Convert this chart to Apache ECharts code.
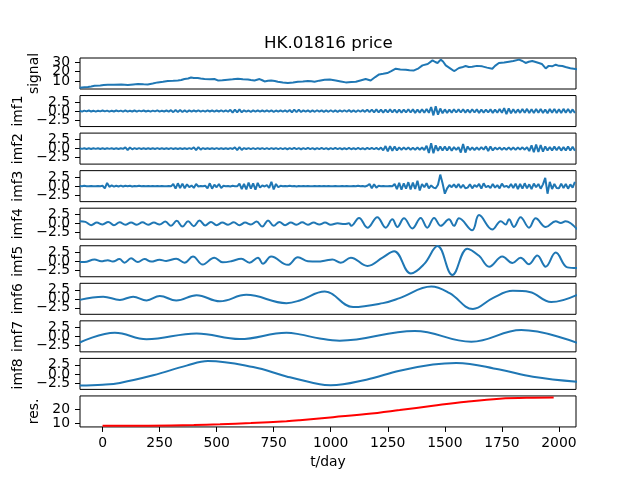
<!DOCTYPE html>
<html><head><meta charset="utf-8">
<script src="https://cdn.jsdelivr.net/npm/echarts@6/dist/echarts.min.js"></script>
<style>html,body{margin:0;padding:0;background:#fff}#c{width:640px;height:480px}</style>
</head><body><div id="c"></div>
<script>
const titleText = 'HK.01816 price';
const panelNames = ['signal','imf1','imf2','imf3','imf4','imf5','imf6','imf7','imf8','res.'];
const xTicks = [0,250,500,750,1000,1250,1500,1750,2000];
const signalTicks = [10,20,30];
const imfTicks = [-2.5,0,2.5];
const resTicks = [10,20];

// signal: [t/day, price]
const signal = [[-100,3.5],[-80,4.0],[-64,4.2],[-50,4.8],[-35,5.6],[-10,5.9],[5,6.4],[23,6.6],[50,6.5],[82,6.9],[111,6.3],[135,6.9],[155,7.3],[180,7.0],[198,6.9],[220,7.8],[242,9.0],[265,9.6],[286,10.4],[310,10.6],[330,11.0],[345,11.4],[359,12.5],[375,13.0],[388,14.1],[400,13.6],[417,13.5],[430,13.0],[447,12.5],[470,12.3],[490,12.5],[505,11.0],[525,11.2],[549,11.8],[570,12.2],[593,12.8],[615,12.3],[637,11.9],[650,11.4],[666,11.0],[688,12.4],[700,11.2],[710,10.0],[725,10.6],[739,11.0],[755,10.5],[768,9.7],[790,9.0],[812,8.4],[835,9.0],[856,9.7],[878,10.0],[900,10.4],[915,10.1],[929,9.7],[950,10.8],[973,11.8],[996,11.9],[1022,11.0],[1044,10.0],[1066,9.0],[1090,9.4],[1110,9.7],[1130,11.0],[1153,12.5],[1175,11.0],[1195,14.5],[1212,17.2],[1230,17.8],[1248,18.6],[1265,20.5],[1285,23.1],[1305,22.3],[1329,22.1],[1345,21.5],[1365,21.3],[1385,23.5],[1402,26.5],[1425,28.0],[1446,31.7],[1458,30.0],[1468,29.0],[1482,32.4],[1492,30.5],[1504,26.5],[1520,24.0],[1540,20.7],[1550,22.0],[1562,23.8],[1575,24.5],[1591,25.9],[1605,24.8],[1620,25.2],[1640,26.0],[1664,25.5],[1685,24.2],[1708,23.1],[1720,26.0],[1737,29.0],[1760,29.5],[1781,30.3],[1800,31.0],[1825,32.4],[1840,31.0],[1854,29.0],[1868,30.2],[1883,31.0],[1898,30.0],[1912,29.0],[1925,28.0],[1942,23.4],[1955,26.0],[1970,25.5],[1986,27.2],[2000,26.0],[2015,25.8],[2029,24.8],[2050,23.5],[2080,22.4]];

// dense IMFs sampled every denseStep days from denseStart
const denseStart = -100, denseStep = 10;
const imf1 = [
0.12,-0.15,0.12,-0.1,0.15,-0.12,0.1,-0.15,0.08,-0.1,
0.15,-0.1,0.12,-0.15,0.1,-0.12,0.15,-0.1,0.12,-0.15,
0.18,-0.15,0.1,-0.12,0.15,-0.18,0.12,-0.1,0.15,-0.12,
0.1,-0.15,0.12,-0.1,0.18,-0.15,0.1,-0.12,0.15,-0.18,
0.25,-0.3,0.3,-0.25,0.3,-0.25,0.2,-0.25,0.18,-0.15,
0.15,-0.12,0.18,-0.15,0.12,-0.15,0.18,-0.12,0.15,-0.18,
0.15,-0.12,0.18,-0.15,0.2,-0.2,0.35,-0.45,0.4,-0.35,
0.45,-0.35,0.2,-0.18,0.15,-0.2,0.18,-0.15,0.2,-0.18,
0.15,-0.18,0.2,-0.15,0.18,-0.2,0.15,-0.18,0.2,-0.15,
0.18,-0.2,0.3,-0.35,0.4,-0.3,0.35,-0.25,0.2,-0.18,
0.2,-0.22,0.18,-0.2,0.22,-0.18,0.2,-0.22,0.18,-0.2,
0.22,-0.2,0.18,-0.22,0.2,-0.18,0.22,-0.2,0.25,-0.22,
0.2,-0.25,0.22,-0.2,0.25,-0.22,0.35,-0.3,0.4,-0.35,
0.45,-0.4,0.4,-0.45,0.4,-0.4,0.45,-0.4,0.4,-0.45,
0.4,-0.45,0.4,-0.4,0.5,-0.4,0.45,-0.5,0.4,-0.45,
0.5,-0.45,0.55,-0.5,1.1,-1.2,1.3,-1.0,0.7,-0.6,
0.45,-0.5,0.4,-0.45,0.5,-0.4,0.45,-0.4,0.5,-0.45,
0.4,-0.45,0.5,-0.4,0.45,-0.5,0.4,-0.45,0.4,-0.4,
0.45,-0.5,0.4,-0.45,0.55,-0.5,0.8,-0.85,0.75,-0.6,
0.5,-0.55,0.45,-0.5,0.55,-0.45,0.6,-0.55,0.5,-0.55,
0.55,-0.5,0.6,-0.55,0.45,-0.6,0.55,-0.5,0.6,-0.55,
0.5,-0.55,0.6,-0.45,0.55,-0.5,0.45,-0.55];
const imf2 = [
0.1,-0.08,0.1,-0.1,0.08,-0.1,0.1,-0.08,0.1,-0.1,
0.08,-0.1,0.1,-0.08,0.1,-0.1,0.08,-0.1,0.1,-0.08,
0.35,-0.4,0.3,-0.2,0.12,-0.1,0.12,-0.1,0.1,-0.12,
0.1,-0.12,0.1,-0.1,0.12,-0.1,0.1,-0.12,0.1,-0.1,
0.12,-0.1,0.1,-0.12,0.1,-0.12,0.1,-0.1,0.12,-0.1,
0.35,-0.4,0.4,-0.3,0.15,-0.12,0.1,-0.12,0.1,-0.1,
0.12,-0.1,0.1,-0.12,0.1,-0.12,0.15,-0.12,0.35,-0.4,
0.4,-0.35,0.15,-0.12,0.15,-0.15,0.12,-0.15,0.15,-0.12,
0.15,-0.15,0.12,-0.15,0.15,-0.12,0.15,-0.15,0.12,-0.15,
0.15,-0.18,0.15,-0.15,0.18,-0.15,0.15,-0.18,0.15,-0.15,
0.18,-0.15,0.15,-0.18,0.15,-0.15,0.18,-0.15,0.15,-0.18,
0.15,-0.15,0.18,-0.15,0.15,-0.18,0.15,-0.18,0.2,-0.18,
0.15,-0.18,0.2,-0.18,0.15,-0.2,0.18,-0.15,0.2,-0.18,
0.2,-0.25,0.3,-0.5,0.7,-0.75,0.7,-0.6,0.6,-0.5,
0.35,-0.3,0.3,-0.25,0.3,-0.3,0.25,-0.3,0.3,-0.3,
0.3,-0.4,0.8,-1.2,1.5,-1.3,0.9,-0.6,0.6,-0.5,
0.6,-0.5,0.55,-0.6,0.4,-0.35,0.4,-1.1,1.3,-1.1,
0.6,-0.4,0.35,-0.4,0.3,-0.35,0.4,-0.3,0.6,-0.65,
0.6,-0.5,0.3,-0.25,0.3,-0.35,0.25,-0.3,0.35,-0.3,
0.3,-0.35,0.3,-0.25,0.35,-0.3,0.4,-0.7,0.9,-1.0,
1.1,-0.95,1.0,-0.85,0.6,-0.5,0.45,-0.5,0.55,-0.45,
0.5,-0.55,0.4,-0.5,0.6,-0.55,0.5,-0.6];
const imf3 = [
0.05,-0.05,0.1,0,-0.05,0.05,0,-0.05,0.05,0,
0.1,-0.6,0.9,-0.2,0.2,-0.15,0.1,-0.1,0.15,-0.1,
0.1,-0.05,0.1,-0.1,0.05,-0.05,0.1,-0.05,0.05,0,
0.05,-0.05,0.05,0,0.05,-0.05,0.05,-0.05,0,0.05,
-0.05,0.6,-0.7,0.8,-0.5,0.7,-0.6,0.5,-0.3,0.2,
-0.5,0.6,-0.1,0.05,-0.05,0.1,-0.6,0.8,-0.7,0.4,
-0.3,0.6,-0.5,0.1,-0.05,0.05,-0.1,0.1,0,-0.05,
0.7,-0.8,0.6,-0.9,1.0,-0.7,0.8,-1.0,0.9,-0.4,
0.2,-0.1,0.3,-0.5,1.2,-0.9,0.6,-0.3,0.1,-0.05,
0.05,-0.05,0.1,-0.05,0.05,-0.1,0.05,0,0.05,-0.05,
0.05,0,-0.05,0.05,-0.05,0.05,0,0.05,-0.05,0.05,
0,-0.05,0.05,0,-0.05,0.05,-0.05,0.05,0,-0.05,
0.05,-0.05,0.1,-0.05,0.05,-0.1,0.1,0.6,-0.6,0.5,
-0.4,0.1,-0.05,0.05,0,-0.05,0.05,0,0.6,-0.8,
0.9,-1.0,0.8,-0.7,1.1,-0.9,1.0,-0.8,1.5,-1.2,
0.6,-0.3,0.8,-0.6,0.2,-0.4,-0.6,0.4,3.2,0.8,
-2.1,-0.6,0.3,-0.3,0.5,-0.4,0.6,-0.5,0.4,-0.6,
-0.4,0.5,-0.6,0.3,-0.2,0.6,-0.7,0.8,-0.3,0.1,
-0.5,0.6,-0.4,0.3,-0.6,0.7,-0.2,0.1,-0.4,0.6,
-0.5,0.7,-0.8,0.6,-0.7,0.8,-0.6,0.5,-0.8,0.7,
-0.3,0.6,-0.7,0.5,2.3,-2.1,1.2,-0.8,0.6,-0.5,
-0.6,0.7,-0.5,0.6,-0.7,0.5,-0.4,1.2];

// smoother IMFs as [t/day, value] read at extremes
const imf4 = [[-100,0.7],[-75,0.5],[-50,-0.4],[-25,0.3],[0,-0.2],[25,0.5],[50,-0.4],[75,0.4],[100,-0.3],[125,0.3],[150,-0.3],[175,0.4],[200,-0.3],[225,0.3],[250,-0.2],[275,0.6],[300,-0.6],[325,0.8],[350,-0.8],[375,0.7],[400,-0.7],[425,0.9],[450,-0.5],[475,0.5],[500,-0.4],[525,0.3],[550,-0.3],[575,0.4],[600,-0.4],[625,0.3],[650,-0.2],[675,0.6],[700,-0.8],[725,0.9],[750,-0.6],[775,0.5],[800,-0.4],[825,0.3],[850,-0.3],[875,0.4],[900,-0.3],[925,0.3],[950,-0.2],[975,0.3],[1000,-0.3],[1030,0.1],[1060,-0.1],[1080,0.1],[1090,-0.6],[1124,1.6],[1161,-1.1],[1204,1.8],[1241,-1.1],[1270,1.2],[1292,-0.9],[1321,1.5],[1358,-1.3],[1394,1.6],[1423,-1.1],[1453,1.6],[1482,-0.6],[1518,1.2],[1540,-0.6],[1562,1.5],[1620,-1.8],[1650,2.4],[1708,-1.6],[1745,0.7],[1767,-0.2],[1781,1.2],[1803,-0.9],[1832,1.8],[1869,-1.1],[1898,1.5],[1942,-0.9],[1986,0.7],[2008,0.2],[2029,0.7],[2080,-1.6]];
const imf5 = [[-100,-0.2],[-79,-0.2],[-35,0.5],[-6,0.0],[23,0.3],[45,-0.1],[74,0.6],[96,-0.4],[125,0.8],[155,-0.2],[184,0.6],[213,-0.1],[250,0.4],[279,0.1],[323,0.7],[359,-0.4],[396,1.3],[439,-0.9],[490,1.0],[527,-0.3],[564,0.0],[608,0.7],[644,-0.4],[681,1.0],[703,-0.7],[739,1.3],[812,-1.0],[856,1.1],[900,0.0],[944,-0.1],[978,0.2],[1007,0.5],[1044,-0.4],[1088,1.0],[1161,-1.3],[1227,1.0],[1278,2.8],[1351,-3.4],[1409,-0.8],[1468,4.2],[1533,-3.8],[1599,3.5],[1650,1.5],[1694,-1.5],[1752,1.3],[1796,-0.5],[1832,1.0],[1869,-0.8],[1905,1.6],[1942,-1.5],[1986,2.4],[2037,-1.7],[2080,-1.9]];
const imf6 = [[-100,-0.3],[3,0.6],[76,-0.3],[134,0.6],[193,-0.45],[251,0.8],[323,-0.5],[412,1.0],[514,-0.7],[630,1.1],[806,-1.2],[864,-0.45],[974,2.0],[1098,-2.3],[1229,-1.2],[1302,0.2],[1441,3.4],[1521,1.55],[1623,-2.8],[1710,0.2],[1798,2.2],[1871,1.9],[1966,-0.9],[2080,1.1]];
const imf7 = [[-100,-1.7],[54,1.0],[193,-0.8],[412,0.8],[601,-0.75],[806,1.0],[864,0.55],[952,-0.6],[1039,-1.2],[1368,1.5],[1616,-1.5],[1835,1.75],[2080,-1.8]];
const imf8 = [[-100,-3.25],[0,-3.0],[76,-2.5],[222,-0.4],[368,2.3],[462,3.6],[660,1.9],[806,-0.7],[952,-2.9],[1000,-3.15],[1156,-1.6],[1302,0.9],[1448,2.6],[1550,3.05],[1740,1.2],[1886,-0.8],[2080,-2.2]];
const res = [[0,8.4],[200,8.5],[400,8.9],[515,9.4],[650,10.3],[806,11.6],[864,12.3],[1010,14.4],[1156,16.5],[1302,19.3],[1448,22.3],[1594,25.1],[1740,27.2],[1886,27.9],[1977,28.0]];

function dense(vals){ return vals.map((v,i)=>[denseStart+i*denseStep, v]); }

const seriesData = [signal, dense(imf1), dense(imf2), dense(imf3), imf4, imf5, imf6, imf7, imf8, res];
const smoothFlags = [false,false,false,false,true,true,true,true,true,true];
const yRanges = [[2.2,34.1],[-4.3,4.3],[-4.3,4.3],[-4.3,4.3],[-4.3,4.3],[-4.3,4.3],[-4.3,4.3],[-4.3,4.3],[-4.3,4.3],[7.6,29.1]];
const yTickSets = [signalTicks,imfTicks,imfTicks,imfTicks,imfTicks,imfTicks,imfTicks,imfTicks,imfTicks,resTicks];
const nameGaps = [34,47,47,47,47,47,47,47,47,32];

const FONT = 'DejaVu Sans';
const blue = '#1f77b4';
const xMin = -98.8, xMax = 2074.8;

function fmt(v){
  if (Math.abs(v) < 1e-9) return '0.0';
  return (v < 0 ? '\u2212' : '') + Math.abs(v).toFixed(1);
}
function fmtInt(v){ return String(Math.round(v)); }

const grids = [], xAxes = [], yAxes = [], series = [];
for (let i = 0; i < 10; i++) {
  const top = 58 + i * 37.55;
  grids.push({left: 80, width: 496, top: top, height: 31, show: true, borderColor: '#000', borderWidth: 1, backgroundColor: 'transparent', containLabel: false});
  const last = i === 9;
  xAxes.push({
    type: 'value', gridIndex: i, min: xMin, max: xMax,
    axisLine: {show: false, onZero: false}, splitLine: {show: false},
    axisTick: {show: last, length: 5, lineStyle: {color: '#000', width: 1}, customValues: xTicks},
    axisLabel: {show: last, customValues: xTicks, formatter: fmtInt, showMinLabel: true, showMaxLabel: true, fontSize: 13.9, color: '#000', fontFamily: FONT, margin: 9},
    name: last ? 't/day' : '', nameLocation: 'middle', nameGap: 28,
    nameTextStyle: {fontSize: 13.9, color: '#000', fontFamily: FONT}
  });
  const isImf = i > 0 && i < 9;
  const mainY = yAxes.length;
  // one y axis per tick so overlapping matplotlib-style labels all stay visible
  yTickSets[i].forEach((tv, k) => {
    yAxes.push({
      type: 'value', gridIndex: i, position: 'left', offset: 0,
      min: yRanges[i][0], max: yRanges[i][1],
      axisLine: {show: false, onZero: false}, splitLine: {show: false},
      axisTick: {show: true, length: 5, lineStyle: {color: '#000', width: 1}, customValues: [tv]},
      axisLabel: {show: true, customValues: [tv], formatter: isImf ? fmt : fmtInt, showMinLabel: true, showMaxLabel: true, fontSize: 13.9, color: '#000', fontFamily: FONT, margin: 10},
      name: k === 0 ? panelNames[i] : '', nameLocation: 'middle', nameRotate: 90, nameGap: nameGaps[i],
      nameTextStyle: {fontSize: 13.9, color: '#000', fontFamily: FONT}
    });
  });
  series.push({
    type: 'line', xAxisIndex: i, yAxisIndex: mainY, data: seriesData[i],
    showSymbol: false, symbol: 'none', smooth: smoothFlags[i] ? 0.4 : false, clip: true,
    lineStyle: {color: last ? '#ff0000' : blue, width: 2}, itemStyle: {color: last ? '#ff0000' : blue},
    animation: false
  });
}

const chart = echarts.init(document.getElementById('c'), null, {renderer: 'canvas'});
chart.setOption({
  animation: false,
  backgroundColor: '#fff',
  title: {text: titleText, left: 264, top: 35, padding: 0, textStyle: {fontSize: 16.7, fontWeight: 'normal', color: '#000', fontFamily: FONT}},
  grid: grids, xAxis: xAxes, yAxis: yAxes, series: series
});
</script>
</body></html>
